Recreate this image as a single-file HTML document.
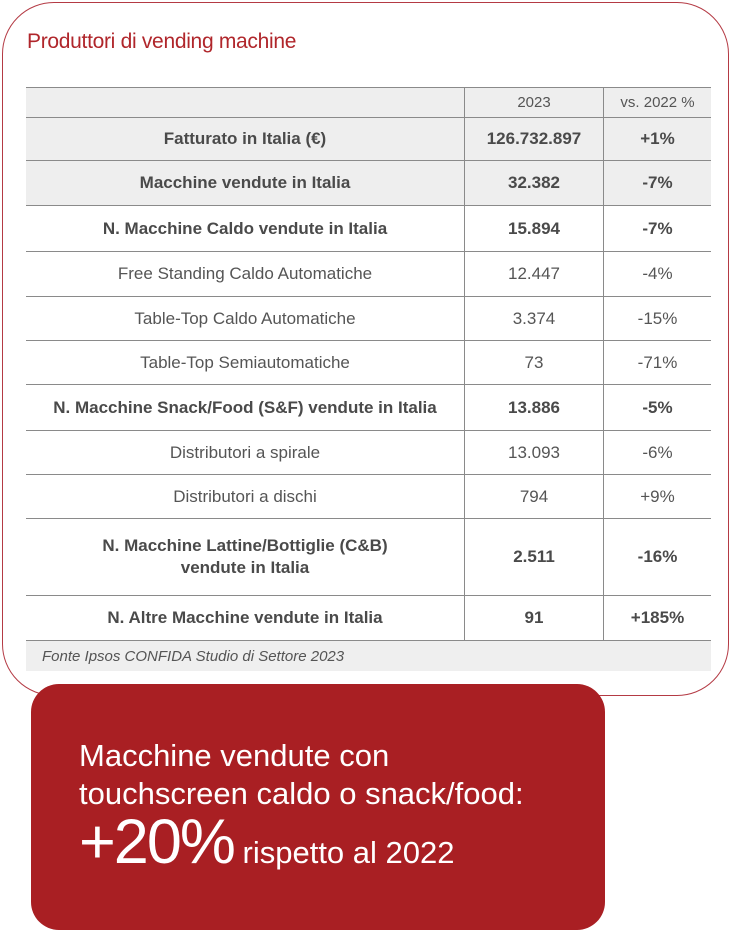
<!DOCTYPE html>
<html><head><meta charset="utf-8"><style>
*{margin:0;padding:0;box-sizing:border-box}
body{width:731px;height:933px;background:#fff;position:relative;overflow:hidden;font-family:"Liberation Sans",sans-serif}
.frame{position:absolute;left:2px;top:2px;width:727px;height:694px;border:1px solid #b43a44;border-radius:52px}
.title{position:absolute;left:27px;top:30px;font-size:21px;color:#b0262b;letter-spacing:-0.3px}
.row{position:absolute;left:26px;width:685px;border-bottom:1px solid #8a8a8a;color:#555;font-size:17px}
.row.g{background:#eeeeee}
.row.b{font-weight:bold;color:#4a4a4a}
.c{position:absolute;top:0;height:100%;display:flex;align-items:center;justify-content:center;text-align:center;line-height:22px}
.c1{left:0;width:438px}
.c2{left:438px;width:139px;border-left:1px solid #8a8a8a}
.c3{left:577px;width:108px;border-left:1px solid #8a8a8a}
.hdr{font-size:15px;font-weight:normal;color:#555}
.foot{position:absolute;left:26px;top:641px;width:685px;height:30px;background:#efefef;font-style:italic;color:#555;font-size:15px;padding:7px 0 0 16px}
.red{position:absolute;left:31px;top:684px;width:574px;height:246px;background:#a91f23;border-radius:28px;color:#fff}
.l{position:absolute;left:48px;font-size:31px;white-space:nowrap}
</style></head><body>
<div class="frame"></div>
<div class="title">Produttori di vending machine</div>
<div class="row g hdr" style="top:87px;height:31px;border-top:1px solid #8a8a8a"><div class="c c1"></div><div class="c c2">2023</div><div class="c c3">vs. 2022 %</div></div>
<div class="row g b" style="top:118px;height:43px"><div class="c c1">Fatturato in Italia (€)</div><div class="c c2">126.732.897</div><div class="c c3">+1%</div></div>
<div class="row g b" style="top:161px;height:45px"><div class="c c1">Macchine vendute in Italia</div><div class="c c2">32.382</div><div class="c c3">-7%</div></div>
<div class="row b" style="top:206px;height:46px"><div class="c c1">N. Macchine Caldo vendute in Italia</div><div class="c c2">15.894</div><div class="c c3">-7%</div></div>
<div class="row" style="top:252px;height:45px"><div class="c c1">Free Standing Caldo Automatiche</div><div class="c c2">12.447</div><div class="c c3">-4%</div></div>
<div class="row" style="top:297px;height:44px"><div class="c c1">Table-Top Caldo Automatiche</div><div class="c c2">3.374</div><div class="c c3">-15%</div></div>
<div class="row" style="top:341px;height:44px"><div class="c c1">Table-Top Semiautomatiche</div><div class="c c2">73</div><div class="c c3">-71%</div></div>
<div class="row b" style="top:385px;height:46px"><div class="c c1">N. Macchine Snack/Food (S&amp;F) vendute in Italia</div><div class="c c2">13.886</div><div class="c c3">-5%</div></div>
<div class="row" style="top:431px;height:44px"><div class="c c1">Distributori a spirale</div><div class="c c2">13.093</div><div class="c c3">-6%</div></div>
<div class="row" style="top:475px;height:44px"><div class="c c1">Distributori a dischi</div><div class="c c2">794</div><div class="c c3">+9%</div></div>
<div class="row b" style="top:519px;height:77px"><div class="c c1">N. Macchine Lattine/Bottiglie (C&amp;B)<br>vendute in Italia</div><div class="c c2">2.511</div><div class="c c3">-16%</div></div>
<div class="row b" style="top:596px;height:45px"><div class="c c1">N. Altre Macchine vendute in Italia</div><div class="c c2">91</div><div class="c c3">+185%</div></div>
<div class="foot">Fonte Ipsos CONFIDA Studio di Settore 2023</div>
<div class="red">
<div class="l" style="top:54px">Macchine vendute con</div>
<div class="l" style="top:92px">touchscreen caldo o snack/food:</div>
<div class="l" style="top:122px"><span style="font-size:63px;letter-spacing:-2px">+20%</span> <span style="font-size:31px">rispetto al 2022</span></div>
</div>
</body></html>
